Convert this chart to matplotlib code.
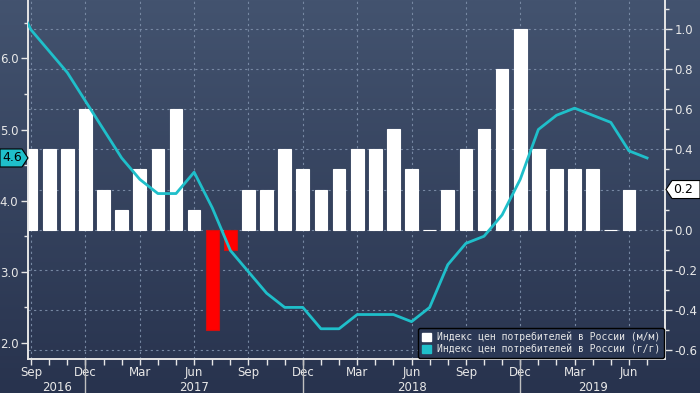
import numpy as np
import pandas as pd
import matplotlib
matplotlib.use("Agg")
import matplotlib.pyplot as plt
from matplotlib.patches import Polygon, Patch
from matplotlib.ticker import MultipleLocator, FixedLocator, FuncFormatter, FormatStrFormatter
from matplotlib.transforms import IdentityTransform

# CPI Russia, m/m (bars, right axis) and y/y (line, left axis)
mm_months = pd.period_range("2016-09", "2019-06", freq="M")
cpi_mm = [0.4, 0.4, 0.4, 0.6, 0.2, 0.1, 0.3, 0.4, 0.6, 0.1, -0.5, -0.1,
          0.2, 0.2, 0.4, 0.3, 0.2, 0.3, 0.4, 0.4, 0.5, 0.3, 0.0, 0.2,
          0.4, 0.5, 0.8, 1.0, 0.4, 0.3, 0.3, 0.3, 0.0, 0.2]
yy_months = pd.period_range("2016-08", "2019-07", freq="M")
cpi_yy = [6.9, 6.4, 6.1, 5.8, 5.4, 5.0, 4.6, 4.3, 4.1, 4.1, 4.4, 3.9,
          3.3, 3.0, 2.7, 2.5, 2.5, 2.2, 2.2, 2.4, 2.4, 2.4, 2.3, 2.5,
          3.1, 3.4, 3.5, 3.8, 4.3, 5.0, 5.2, 5.3, 5.2, 5.1, 4.7, 4.6]
month_names = {3: "Mar", 6: "Jun", 9: "Sep", 12: "Dec"}
years = ["2016", "2017", "2018", "2019"]
legend_labels = ["Индекс цен потребителей в России (м/м)",
                 "Индекс цен потребителей в России (г/г)"]

CYAN = "#1fbfca"
TXT = "#e8e8e8"
GRID = "#7788a3"

plt.rcParams["axes.unicode_minus"] = False
plt.rcParams["font.family"] = ["DejaVu Sans"]

start = pd.Period("2016-09", freq="M")
x_mm = np.array([(m - start).n for m in mm_months])
x_yy = np.array([(m - start).n for m in yy_months])
all_months = pd.period_range("2016-08", "2019-08", freq="M")
x_all = np.array([(m - start).n for m in all_months])

W, H = 700, 393
fig = plt.figure(figsize=(W / 100, H / 100), dpi=100)

# background gradient
bg = fig.add_axes([0, 0, 1, 1], zorder=-10)
c_top = np.array([0x43, 0x53, 0x6f]) / 255
c_bot = np.array([0x28, 0x33, 0x4e]) / 255
t = np.linspace(0, 1, 256)[:, None]
grad = (c_top[None, :] * (1 - t) + c_bot[None, :] * t)[:, None, :]
bg.imshow(grad, aspect="auto", extent=[0, 1, 0, 1])
bg.axis("off")

left, right, bottom, top = 28, 665, 359, 0
ax = fig.add_axes([left / W, 1 - bottom / H, (right - left) / W, (bottom - top) / H])
ax.set_facecolor("none")
ax2 = ax.twinx()
ax2.set_facecolor("none")

# bars
colors = ["white" if v >= 0 else "#ff0000" for v in cpi_mm]
edges = ["white" if v >= 0 else "#d01010" for v in cpi_mm]
ax.bar(x_mm, cpi_mm, width=0.7, color=colors, edgecolor=edges, linewidth=0.8, zorder=3)
ax.set_ylim(-0.645, 1.145)
ax.set_xlim(-0.17, 34.99)
ax.yaxis.tick_right()
ax.yaxis.set_major_locator(MultipleLocator(0.2))
ax.yaxis.set_minor_locator(MultipleLocator(0.1))
# the last-value tag sits on top of the 0.2 label
last_mm = cpi_mm[-1]
ax.yaxis.set_major_formatter(FuncFormatter(lambda v, p: "" if abs(v - last_mm) < 1e-6 else f"{v:.1f}"))

major_x = [x for x, m in zip(x_all, all_months) if m.month in month_names]
major_lbl = [month_names[m.month] for m in all_months if m.month in month_names]
ax.xaxis.set_major_locator(FixedLocator(major_x))
ax.set_xticklabels(major_lbl)
ax.xaxis.set_minor_locator(FixedLocator(x_all))

ax.set_axisbelow(True)
ax.grid(True, which="major", color=GRID, linestyle=(0, (2, 3)), linewidth=0.8)

# line
ax2.plot(x_yy, cpi_yy, color=CYAN, linewidth=2, zorder=4)
ax2.set_ylim(1.775, 6.82)
ax2.yaxis.tick_left()
ax2.yaxis.set_major_locator(MultipleLocator(1.0))
ax2.yaxis.set_minor_locator(MultipleLocator(0.5))
ax2.yaxis.set_major_formatter(FormatStrFormatter("%.1f"))

for a in (ax, ax2):
    a.spines["top"].set_visible(False)
    for s in ("left", "right", "bottom"):
        a.spines[s].set_color("#e6e6e6")
        a.spines[s].set_linewidth(1.2)
    a.tick_params(which="both", colors="#e6e6e6", labelcolor=TXT, labelsize=8.5)
    a.tick_params(which="major", length=5, width=1, pad=2)
    a.tick_params(which="minor", length=3, width=1)
ax.tick_params(axis="x", which="both", length=4, pad=1)

# year separators and labels
sep_x = [x for x, m in zip(x_all, all_months) if m.month == 12]
xl = ax.get_xlim()
bounds = [xl[0]] + sep_x + [xl[1]]
trans = ax.get_xaxis_transform()
for sx in sep_x:
    ax.plot([sx, sx], [0, -0.1], transform=trans, color="#c0c0c0", linewidth=1, clip_on=False)
for i, yr in enumerate(years):
    ax.text((bounds[i] + bounds[i + 1]) / 2, -0.079, yr, transform=trans,
            ha="center", va="center", color=TXT, fontsize=8.5)

# legend
handles = [Patch(facecolor="white", edgecolor="white"), Patch(facecolor=CYAN, edgecolor=CYAN)]
leg = ax2.legend(handles, legend_labels, loc="lower right", bbox_to_anchor=(0.998, 0.003),
                 borderaxespad=0, frameon=True, facecolor="#2b3855", edgecolor="black",
                 framealpha=1, handlelength=0.9, handleheight=0.9, handletextpad=0.6,
                 labelspacing=0.15, prop={"family": "DejaVu Sans Mono", "size": 7})
for txt in leg.get_texts():
    txt.set_color(TXT)

# value tags
y_l = ax2.transData.transform((0, cpi_yy[-1]))[1]
fig.add_artist(Polygon([(0, y_l - 9), (22, y_l - 9), (28, y_l), (22, y_l + 9), (0, y_l + 9)],
                       closed=True, facecolor=CYAN, edgecolor="black", linewidth=0.8,
                       transform=IdentityTransform()))
fig.text(12 / W, y_l / H, f"{cpi_yy[-1]:.1f}", ha="center", va="center", color="black", fontsize=9)

y_r = ax.transData.transform((0, last_mm))[1]
fig.add_artist(Polygon([(666, y_r), (672, y_r - 9), (700, y_r - 9), (700, y_r + 9), (672, y_r + 9)],
                       closed=True, facecolor="white", edgecolor="black", linewidth=0.8,
                       transform=IdentityTransform()))
fig.text(673 / W, y_r / H, f"{last_mm:.1f}", ha="left", va="center", color="black", fontsize=9)

fig.savefig("out.png", dpi=100)
